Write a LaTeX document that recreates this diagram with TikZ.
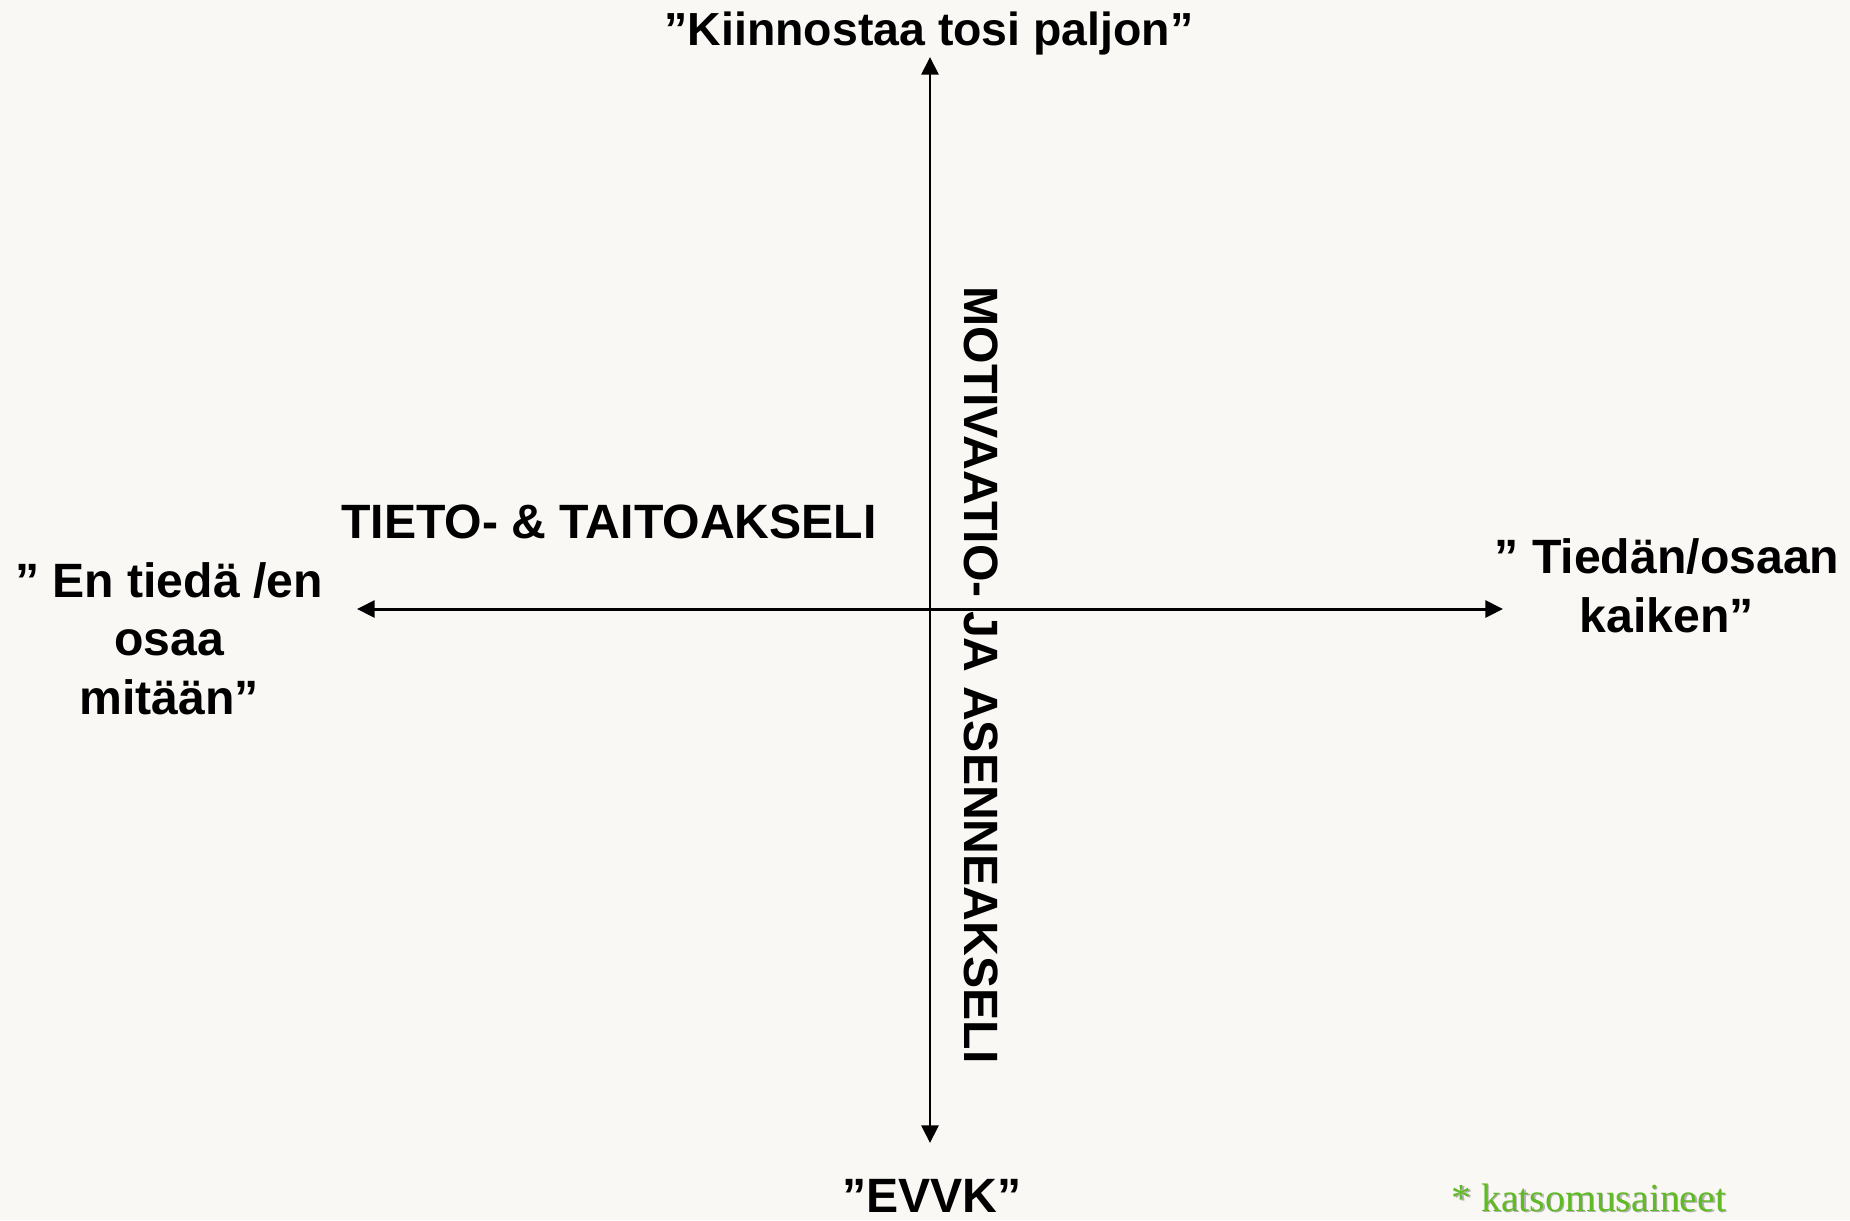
\documentclass[tikz,border=0pt]{standalone}
\usepackage{fontspec}
\setmainfont{Liberation Sans}
\newfontfamily\gardenfont{Liberation Serif}
\usetikzlibrary{arrows.meta}
\definecolor{paper}{RGB}{250,248,244}
\definecolor{leafgreen}{RGB}{96,186,36}
\tikzstyle{invis} = [draw=none, inner sep=0pt]
\tikzstyle{axistext} = [invis, font=\fontsize{13.7}{16.6}\selectfont\bfseries, align=center]
\tikzstyle{note} = [invis, font=\gardenfont\fontsize{11.3}{13}\selectfont, anchor=base west]

\begin{document}
\begin{tikzpicture}[x=0.01cm, y=-0.01cm, >={Triangle[length=5pt,width=4.8pt]}, line width=0.85pt]

\fill[paper] (0,0) rectangle (1850,1220);
\useasboundingbox (0,0) rectangle (1850,1220);

% axis ends
\coordinate (up) at (930,57);
\coordinate (down) at (930,1143);
\coordinate (west) at (357,609);
\coordinate (east) at (1503,609);

\path
(down) edge [<->] node {} (up)
(west) edge [<->] node {} (east);

% axis labels
\node[axistext, anchor=base, font=\fontsize{13.2}{16}\selectfont\bfseries] (top) at (929,45) {”Kiinnostaa tosi paljon”};
\node[axistext, anchor=base] (evvk) at (932,1212) {”EVVK”};
\node[axistext, anchor=base] (tieto) at (609,538) {TIETO- \& TAITOAKSELI};
\node[axistext, rotate=-90] (motiv) at (981,675) {MOTIVAATIO- JA ASENNEAKSELI};
\node[axistext, anchor=base] (ennot) at (169,714) {” En tiedä /en\\osaa\\mitään”};
\node[axistext, anchor=base] (kaiken) at (1667,632) {” Tiedän/osaan\\kaiken”};

\node[note, text=black!30] (shade) at (1451.5,1212.5) {* katsomusaineet};
\node[note, text=leafgreen] (katso) at (1450,1211) {* katsomusaineet};

\end{tikzpicture}
\end{document}
